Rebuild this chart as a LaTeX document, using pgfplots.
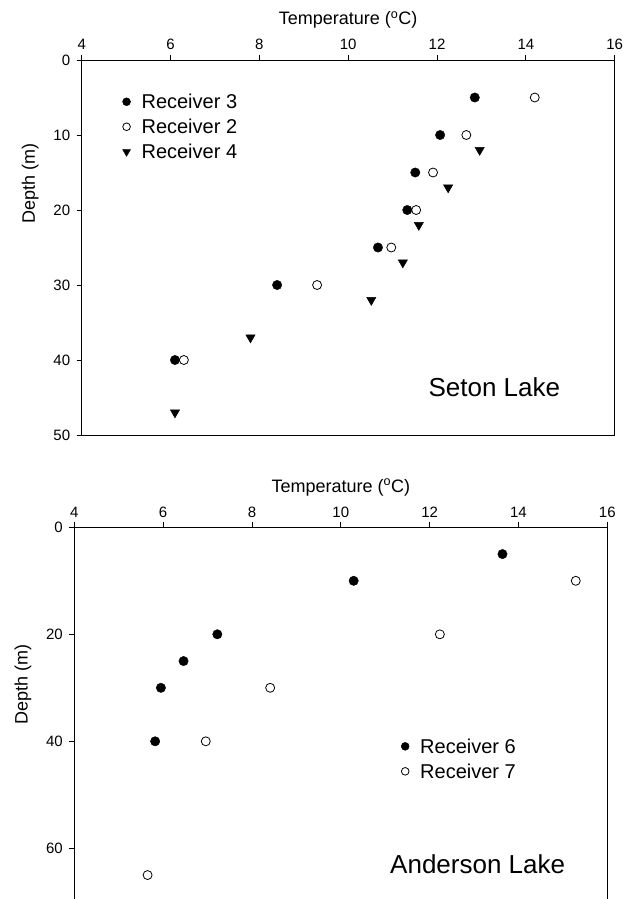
\documentclass[border=0pt]{standalone}
\usepackage{fontspec}
\setmainfont{Liberation Sans}
\usepackage{pgfplots}
\pgfplotsset{compat=1.18}

\pgfplotsset{
  lakeaxis/.style={
    scale only axis, width=533bp, anchor=north west,
    xmin=4, xmax=16, xtick={4,6,...,16},
    y dir=reverse,
    xtick pos=right, xticklabel pos=right, ytick pos=left,
    tick align=outside, major tick length=5bp,
    every tick/.style={black, line width=0.8bp},
    axis line style={line width=0.8bp},
    tick label style={font=\fontsize{15bp}{18bp}\selectfont},
    xticklabel style={yshift=1.5bp},
    yticklabel style={xshift=-3bp},
    label style={font=\fontsize{18bp}{21bp}\selectfont},
    xlabel style={at={(ticklabel cs:0.5,4bp)}},
    /pgf/number format/assume math mode=true,
    xlabel={Temperature (\textsuperscript{o}C)},
    ylabel={Depth (m)},
    legend cell align=left,
    legend style={draw=none, fill=none, inner sep=0pt, outer sep=0pt,
      font=\fontsize{20bp}{24bp}\selectfont,
      nodes={inner sep=0pt, text height=19.7bp, text depth=5.3bp},
      /tikz/every odd column/.append style={column sep=11bp}},
    legend image code/.code={\path[draw=none, fill=none] (0bp,-4bp) rectangle (8bp,4bp);
      \draw[##1, every mark/.append style={scale=0.85}] plot coordinates {(4bp,0bp)};},
  },
  fdot/.style={only marks, mark=*, mark size=4.7bp, black},
  odot/.style={only marks, mark=o, mark size=4.5bp, black,
    mark options={line width=0.8bp, fill=white}},
  tri/.style={only marks, mark=triangle*, mark size=5.4bp, black,
    mark options={rotate=180}},
}

\begin{document}
\begin{tikzpicture}
\path[use as bounding box] (0,0) rectangle (631bp,-899bp);

% Seton Lake
\begin{axis}[lakeaxis, at={(81.7bp,-60bp)}, height=375bp,
    ymin=0, ymax=50, ytick={0,10,...,50},
    ylabel style={at={(ticklabel cs:0.67,8bp)}},
    legend style={at={(axis cs:4.92,3.9)}, anchor=north west}]
\addplot[fdot] coordinates {(12.85,5) (12.07,10) (11.51,15) (11.33,20) (10.67,25) (8.4,30) (6.1,40)};
\addplot[odot] coordinates {(14.2,5) (12.66,10) (11.91,15) (11.53,20) (10.97,25) (9.3,30) (6.3,40)};
\addplot[tri] coordinates {(12.96,12) (12.25,17) (11.59,22) (11.23,27) (10.52,32) (7.8,37) (6.1,47)};
\legend{Receiver 3, Receiver 2, Receiver 4}
\node[anchor=base east, font=\fontsize{26bp}{30bp}\selectfont] at (axis cs:14.85,44.8) {Seton Lake};
\end{axis}

% Anderson Lake
\begin{axis}[lakeaxis, at={(74.3bp,-527.3bp)}, height=374.5bp,
    ymin=0, ymax=70, ytick={0,20,40,60},
    ylabel style={at={(ticklabel cs:0.58,8bp)}},
    legend style={at={(axis cs:11.36,38.6)}, anchor=north west}]
\addplot[fdot] coordinates {(13.64,5) (10.29,10) (7.22,20) (6.46,25) (5.95,30) (5.82,40)};
\addplot[odot] coordinates {(15.29,10) (12.23,20) (8.41,30) (6.96,40) (5.65,65)};
\legend{Receiver 6, Receiver 7}
\node[anchor=base east, font=\fontsize{26bp}{30bp}\selectfont] at (axis cs:15.13,64.8) {Anderson Lake};
\end{axis}
\end{tikzpicture}
\end{document}
